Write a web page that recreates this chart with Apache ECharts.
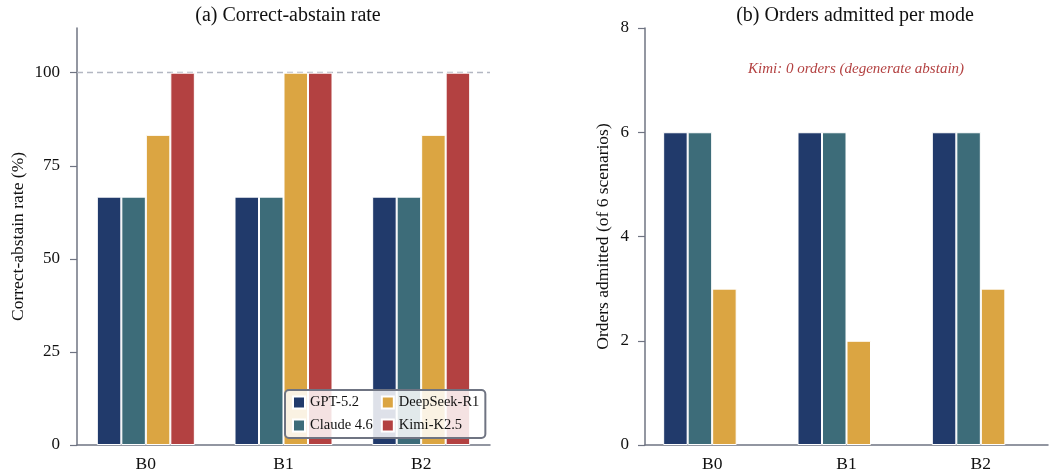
<!DOCTYPE html>
<html><head><meta charset="utf-8">
<script src="https://cdn.jsdelivr.net/npm/echarts@6/dist/echarts.min.js"></script>
<style>html,body{margin:0;padding:0;background:#fff}#c{width:1055px;height:475px}</style>
</head><body><div id="c"></div>
<script>
const categories = ['B0', 'B1', 'B2'];
const models = ['GPT-5.2', 'Claude 4.6', 'DeepSeek-R1', 'Kimi-K2.5'];
const abstainGPT = [66.7, 66.7, 66.7];
const abstainClaude = [66.7, 66.7, 66.7];
const abstainDeepSeek = [83.3, 100, 83.3];
const abstainKimi = [100, 100, 100];
const ordersGPT = [6, 6, 6];
const ordersClaude = [6, 6, 6];
const ordersDeepSeek = [3, 2, 3];
const ordersKimi = [0, 0, 0];
const leftTicks = [0, 25, 50, 75, 100];
const rightTicks = [0, 2, 4, 6, 8];

const colors = ['#213a6b', '#3d6c79', '#dba542', '#b34141'];
const FONT = 'Liberation Serif';
const axisColor = '#6f7482';

const chart = echarts.init(document.getElementById('c'), null, {renderer: 'canvas'});

function yAxis(gi, max, interval, ticks, name, gap, margin) {
  return {
    type: 'value', gridIndex: gi, min: 0, max: max, interval: interval,
    name: name, nameLocation: 'middle', nameGap: gap,
    nameTextStyle: {fontFamily: FONT, fontSize: 17.5, color: '#111'},
    axisLine: {show: true, lineStyle: {color: axisColor, width: 1.5}},
    axisTick: {show: true, length: 7, customValues: ticks, lineStyle: {color: axisColor, width: 1.2}},
    axisLabel: {fontFamily: FONT, fontSize: 17, color: '#111', margin: margin, customValues: ticks},
    splitLine: {show: false}
  };
}
function xAxis(gi) {
  return {
    type: 'category', gridIndex: gi, data: categories,
    axisLine: {show: true, lineStyle: {color: axisColor, width: 1.5}},
    axisTick: {show: false},
    axisLabel: {fontFamily: FONT, fontSize: 17.5, color: '#111', margin: 10}
  };
}
function bar(name, data, gi, idx, bw) {
  return {
    type: 'bar', name: name, data: data, xAxisIndex: gi, yAxisIndex: gi,
    barWidth: 24.5, barGap: '0%',
    itemStyle: {color: colors[idx], borderColor: '#ffffff', borderWidth: bw === undefined ? 1 : bw},
    emphasis: {disabled: true}, z: 2
  };
}

const series = [
  bar(models[0], abstainGPT, 0, 0),
  bar(models[1], abstainClaude, 0, 1),
  bar(models[2], abstainDeepSeek, 0, 2),
  Object.assign(bar(models[3], abstainKimi, 0, 3), {
    markLine: {silent: true, symbol: 'none', label: {show: false},
      lineStyle: {color: '#b3b7c2', type: [6, 4], width: 1.3},
      data: [{yAxis: 100}], z: 1}
  }),
  bar(models[0], ordersGPT, 1, 0),
  bar(models[1], ordersClaude, 1, 1),
  bar(models[2], ordersDeepSeek, 1, 2),
  bar(models[3], ordersKimi, 1, 3, 0)
];

chart.setOption({
  animation: false,
  textStyle: {fontFamily: FONT},
  title: [
    {text: '(a) Correct-abstain rate', left: 283, top: 1, textAlign: 'center',
      textStyle: {fontFamily: FONT, fontSize: 20, fontWeight: 'normal', color: '#111'}},
    {text: '(b) Orders admitted per mode', left: 850, top: 1, textAlign: 'center',
      textStyle: {fontFamily: FONT, fontSize: 20, fontWeight: 'normal', color: '#111'}},
    {text: 'Kimi: 0 orders (degenerate abstain)', left: 851, top: 57, textAlign: 'center',
      textStyle: {fontFamily: FONT, fontSize: 15, fontWeight: 'normal', fontStyle: 'italic', color: '#b34141'}}
  ],
  legend: {
    data: models, orient: 'vertical', left: 285, top: 390, height: 40,
    icon: 'rect', itemWidth: 12, itemHeight: 12, itemGap: 8, padding: [5, 6, 5, 7],
    backgroundColor: 'rgba(255,255,255,0.85)', borderColor: '#6f7482', borderWidth: 2, borderRadius: 4,
    textStyle: {fontFamily: FONT, fontSize: 14.5, color: '#111'},
    selectedMode: false
  },
  grid: [
    {left: 77, top: 28, width: 413, height: 417},
    {left: 645, top: 28, width: 403, height: 417}
  ],
  xAxis: [xAxis(0), xAxis(1)],
  yAxis: [yAxis(0, 112, 25, leftTicks, 'Correct-abstain rate (%)', 50, 17),
          yAxis(1, 8, 2, rightTicks, 'Orders admitted (of 6 scenarios)', 33, 16)],
  series: series
});
</script></body></html>
